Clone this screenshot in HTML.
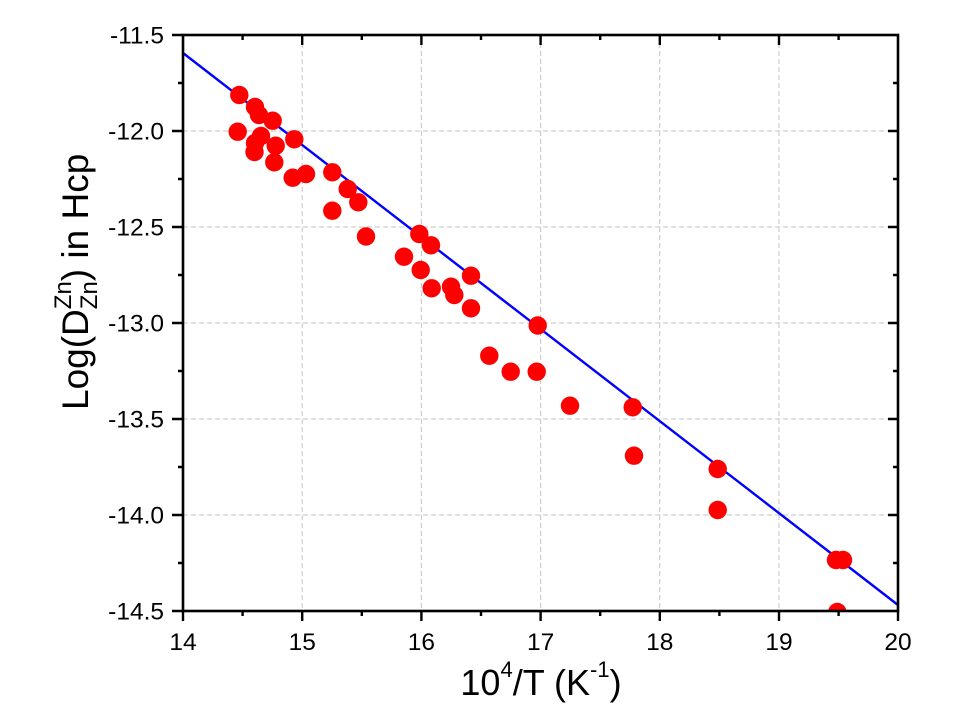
<!DOCTYPE html>
<html><head><meta charset="utf-8"><style>html,body{margin:0;padding:0;background:#fff;}svg{display:block;}</style></head>
<body>
<svg width="960" height="720" viewBox="0 0 960 720" xmlns="http://www.w3.org/2000/svg" font-family="Liberation Sans, Arial, sans-serif">
<defs><clipPath id="pc"><rect x="183" y="35" width="715" height="576"/></clipPath></defs>
<rect width="960" height="720" fill="#fff"/>
<path d="M302.2 35V611M421.4 35V611M540.6 35V611M659.8 35V611M779 35V611M183 131H898M183 227H898M183 323H898M183 419H898M183 515H898" stroke="#c4c4c4" stroke-width="1" stroke-dasharray="5,3" fill="none"/>
<path d="M183 53L898 605" stroke="#0000ff" stroke-width="2.4"/>
<g fill="#ff0000" clip-path="url(#pc)">
<circle cx="239.3" cy="95" r="9.2"/><circle cx="255" cy="107" r="9.2"/><circle cx="259" cy="115" r="9.2"/>
<circle cx="272.7" cy="120.7" r="9.2"/><circle cx="237.7" cy="131.7" r="9.2"/><circle cx="261" cy="136" r="9.2"/>
<circle cx="255" cy="143" r="9.2"/><circle cx="254.5" cy="152" r="9.2"/><circle cx="275.7" cy="145.7" r="9.2"/>
<circle cx="274.3" cy="162.3" r="9.2"/><circle cx="294.3" cy="139.3" r="9.2"/><circle cx="292.7" cy="177.7" r="9.2"/>
<circle cx="306" cy="174" r="9.2"/><circle cx="332.3" cy="172.3" r="9.2"/><circle cx="347.7" cy="189" r="9.2"/>
<circle cx="358.3" cy="202.3" r="9.2"/><circle cx="332.3" cy="210.7" r="9.2"/><circle cx="366" cy="236.5" r="9.2"/>
<circle cx="419.3" cy="234" r="9.2"/><circle cx="431" cy="245.3" r="9.2"/><circle cx="404" cy="256.7" r="9.2"/>
<circle cx="420.7" cy="270" r="9.2"/><circle cx="431.7" cy="288.3" r="9.2"/><circle cx="451" cy="286.7" r="9.2"/>
<circle cx="454.3" cy="295" r="9.2"/><circle cx="471" cy="275.7" r="9.2"/><circle cx="471" cy="308.3" r="9.2"/>
<circle cx="537.7" cy="325.5" r="9.2"/><circle cx="489.3" cy="355.7" r="9.2"/><circle cx="510.7" cy="371.7" r="9.2"/>
<circle cx="536.7" cy="371.7" r="9.2"/><circle cx="570" cy="405.7" r="9.2"/><circle cx="632.7" cy="407.3" r="9.2"/>
<circle cx="634" cy="455.7" r="9.2"/><circle cx="717.7" cy="469" r="9.2"/><circle cx="717.7" cy="510" r="9.2"/>
<circle cx="836" cy="560" r="9.2"/><circle cx="843" cy="560" r="9.2"/><circle cx="837.3" cy="612" r="9.2"/>
</g>
<rect x="183" y="35" width="715" height="576" fill="none" stroke="#000" stroke-width="2.6"/>
<path stroke="#000" stroke-width="2.4" fill="none" d="
M183 611v10M302.2 611v10M421.4 611v10M540.6 611v10M659.8 611v10M779 611v10M898 611v10
M242.6 611v5M361.8 611v5M481 611v5M600.2 611v5M719.4 611v5M838.6 611v5
M302.2 35v10M421.4 35v10M540.6 35v10M659.8 35v10M779 35v10
M242.6 35v5M361.8 35v5M481 35v5M600.2 35v5M719.4 35v5M838.6 35v5
M172 35h11M172 131h11M172 227h11M172 323h11M172 419h11M172 515h11M172 611h11
M178 83h5M178 179h5M178 275h5M178 371h5M178 467h5M178 563h5
M888 131h10M888 227h10M888 323h10M888 419h10M888 515h10
M893 83h5M893 179h5M893 275h5M893 371h5M893 467h5M893 563h5"/>
<g font-size="24.5" fill="#000" text-anchor="end">
<text x="164" y="43.5">-11.5</text><text x="164" y="139.5">-12.0</text><text x="164" y="235.5">-12.5</text>
<text x="164" y="331.5">-13.0</text><text x="164" y="427.5">-13.5</text><text x="164" y="523.5">-14.0</text>
<text x="164" y="619.5">-14.5</text>
</g>
<g font-size="24.5" fill="#000" text-anchor="middle">
<text x="183" y="650">14</text><text x="302.2" y="650">15</text><text x="421.4" y="650">16</text>
<text x="540.6" y="650">17</text><text x="659.8" y="650">18</text><text x="779" y="650">19</text>
<text x="898" y="650">20</text>
</g>
<text x="541" y="695" font-size="36" text-anchor="middle" fill="#000">10<tspan font-size="22" dy="-18">4</tspan><tspan dy="18">/T (K</tspan><tspan font-size="22" dy="-18">-1</tspan><tspan dy="18">)</tspan></text>
<text transform="translate(88,410) rotate(-90)" x="0" y="0" font-size="37" fill="#000">Log(D<tspan font-size="24" dy="-17">Zn</tspan><tspan font-size="24" dx="-28" dy="26">Zn</tspan><tspan dy="-9">) in Hcp</tspan></text>
</svg>
</body></html>
